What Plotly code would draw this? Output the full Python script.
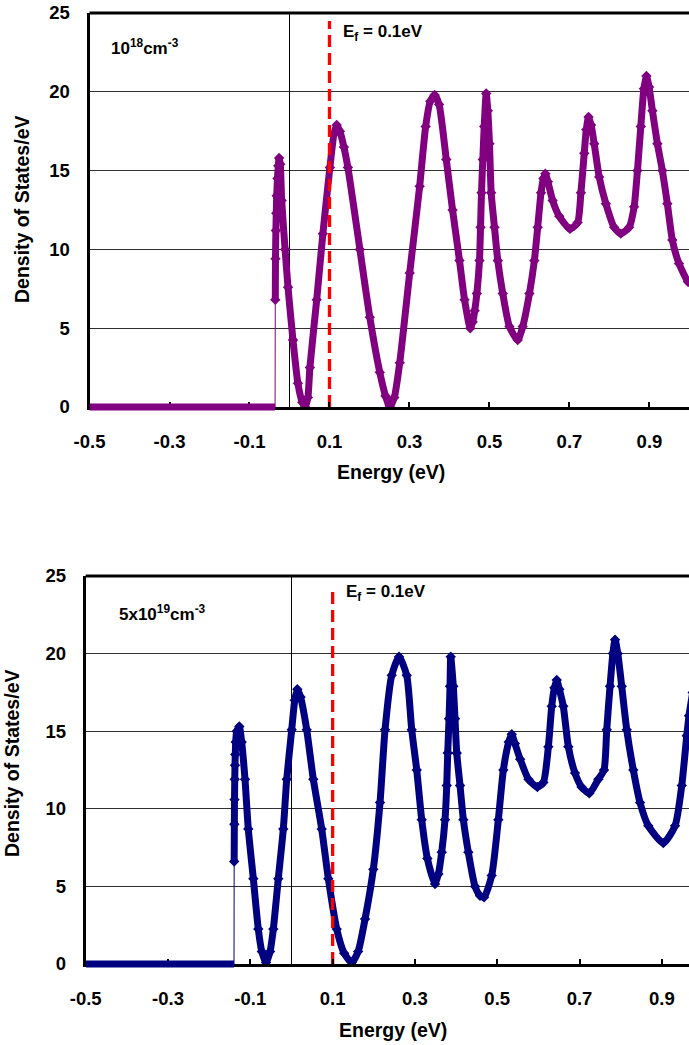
import plotly.graph_objects as go

# ---------------- data ----------------
energy_top = [
    -0.5, -0.036,
    -0.0355, -0.035, -0.034, -0.033, -0.032, -0.030, -0.028, -0.026,
    -0.023, -0.0195, -0.011, -0.0037, 0.0087, 0.021, 0.032, 0.039,
    0.046, 0.051, 0.068, 0.0835, 0.101, 0.111, 0.118,
    0.126, 0.136, 0.146, 0.176, 0.2007, 0.2257, 0.240, 0.2506,
    0.262, 0.2756, 0.3005, 0.3254, 0.3404, 0.352, 0.3628,
    0.374, 0.392, 0.4077, 0.425, 0.4377, 0.4519,
    0.458, 0.463, 0.4684, 0.475, 0.4776, 0.480, 0.4833, 0.4868, 0.4918,
    0.4958, 0.500, 0.5042, 0.5125, 0.5207, 0.5332, 0.5499, 0.5706,
    0.583, 0.5998, 0.6122, 0.6205, 0.6289, 0.635, 0.6397,
    0.646, 0.6579, 0.6746, 0.7012, 0.7203,
    0.7286, 0.7369, 0.742, 0.7477,
    0.754, 0.7618, 0.7743, 0.791, 0.8117, 0.8284,
    0.8491, 0.8616, 0.8699, 0.8783, 0.886, 0.8923,
    0.899, 0.9073, 0.9198, 0.9322, 0.9447, 0.9571, 0.9738, 0.9963, 1.005]

dos_top = [
    0, 0,
    6.8, 9.4, 11.2, 12.3, 13.4, 14.5, 15.3, 15.8,
    15.4, 13.1, 10.0, 7.6, 4.25, 1.5, 0.3, 0.0,
    0.6, 2.5, 6.8, 11.0, 15.2, 17.3, 17.9,
    17.5, 16.5, 15.2, 10.0, 5.7, 2.2, 0.7, 0.0,
    0.6, 2.8, 8.5, 14.0, 17.8, 19.4, 19.8,
    19.2, 15.7, 12.5, 9.3, 6.8, 5.0,
    5.4, 6.1, 7.2, 9.3, 11.4, 13.6, 15.7, 17.8, 19.9,
    18.8, 16.7, 13.6, 11.4, 9.3, 7.2, 5.1, 4.25,
    5.1, 7.2, 9.3, 11.4, 13.6, 14.5, 14.8,
    14.3, 13.1, 12.1, 11.3, 11.7,
    13.6, 16.1, 17.6, 18.4,
    17.9, 16.7, 14.6, 12.9, 11.4, 11.0,
    11.4, 12.7, 15.0, 17.8, 20.2, 21.0,
    20.3, 18.8, 16.7, 15.0, 12.9, 10.6, 9.1, 7.95, 7.8]

energy_bot = [
    -0.5, -0.1396,
    -0.1392, -0.1388, -0.1384, -0.1378, -0.1372, -0.1365, -0.1355, -0.133, -0.1267,
    -0.121, -0.1129, -0.1049, -0.0927, -0.0806, -0.072, -0.0618,
    -0.052, -0.0441, -0.032, -0.0198, -0.0115, 0.0006, 0.008, 0.0142,
    0.022, 0.037, 0.0531, 0.0735, 0.0896, 0.11, 0.128, 0.1465,
    0.162, 0.1788, 0.1989, 0.2152, 0.2274, 0.2436, 0.2614,
    0.2801, 0.2922, 0.3044, 0.3165, 0.3302, 0.3489,
    0.357, 0.3651, 0.3731, 0.3773, 0.3797, 0.3829, 0.3853, 0.387,
    0.3933, 0.3974, 0.4016, 0.4096, 0.4177, 0.4298, 0.4461, 0.4582, 0.468,
    0.4866, 0.5027, 0.5149, 0.528, 0.5353,
    0.543, 0.5557, 0.5759, 0.5975, 0.6121,
    0.6243, 0.6324, 0.639, 0.6446,
    0.651, 0.6606, 0.6728, 0.689, 0.705, 0.7238,
    0.7457, 0.7595, 0.7661, 0.7741, 0.781, 0.7863,
    0.793, 0.8025, 0.8147, 0.8307, 0.847, 0.8672, 0.9036,
    0.9321, 0.9484, 0.9605, 0.966, 0.975]

dos_bot = [
    0, 0,
    6.6, 9.0, 10.6, 11.9, 12.8, 13.5, 14.3, 15.0, 15.3,
    14.3, 11.9, 8.7, 5.5, 2.25, 0.8, 0.1,
    0.8, 2.25, 5.5, 8.7, 11.9, 15.1, 17.0, 17.7,
    17.2, 15.1, 11.9, 8.7, 5.5, 2.25, 0.7, 0.1,
    0.8, 2.9, 6.1, 10.4, 15.1, 18.6, 19.8,
    18.6, 15.1, 12.5, 9.3, 6.8, 5.15,
    5.8, 7.2, 9.3, 11.5, 13.6, 15.8, 17.9, 19.8,
    17.9, 15.8, 13.6, 11.5, 9.3, 7.2, 5.0, 4.4, 4.3,
    5.7, 9.3, 12.5, 14.3, 14.8,
    14.2, 13.2, 11.9, 11.4, 11.7,
    14.0, 16.6, 17.8, 18.3,
    17.7, 16.6, 14.0, 12.3, 11.4, 11.0,
    11.9, 12.5, 15.1, 17.9, 20.0, 20.9,
    20.0, 17.9, 15.1, 12.5, 10.4, 8.9, 7.8,
    8.9, 11.5, 14.7, 16.0, 17.5]

x_tick_vals = [-0.5, -0.3, -0.1, 0.1, 0.3, 0.5, 0.7, 0.9]
x_tick_text = ["-0.5", "-0.3", "-0.1", "0.1", "0.3", "0.5", "0.7", "0.9"]
y_tick_vals = [0, 5, 10, 15, 20, 25]
fermi_level = 0.1
fermi_top = [0, 24.5]
fermi_bot = [0, 24.3]
label_top = "10<sup>18</sup>cm<sup>-3</sup>"
label_bot = "5x10<sup>19</sup>cm<sup>-3</sup>"
fermi_label = "E<sub>f</sub> = 0.1eV"
x_title = "Energy (eV)"
y_title = "Density of States/eV"

# ---------------- figure ----------------
W, H = 689, 1045
FONT = "Arial, 'Liberation Sans', sans-serif"
PURPLE = "#800080"
NAVY = "#000080"

fig = go.Figure()


def add_curve(energy, dos, color, xa, ya):
    # flat zero part: drawn over the axis line (not clipped vertically)
    fig.add_shape(type="line", xref=xa, yref=ya + " domain",
                  x0=energy[0], x1=energy[1], y0=0, y1=0,
                  line=dict(color=color, width=7), layer="above")
    # thin jump at the band edge
    fig.add_trace(go.Scatter(x=energy[1:3], y=dos[1:3], mode="lines",
                             line=dict(color=color, width=1),
                             xaxis=xa, yaxis=ya, showlegend=False))
    # main curve
    fig.add_trace(go.Scatter(x=energy[2:], y=dos[2:], mode="lines+markers",
                             line=dict(color=color, width=7, shape="spline", smoothing=0.6),
                             marker=dict(symbol="diamond", size=8, color=color),
                             xaxis=xa, yaxis=ya, showlegend=False))


add_curve(energy_top, dos_top, PURPLE, "x", "y")
add_curve(energy_bot, dos_bot, NAVY, "x2", "y2")

for xa, ya, yy in (("x", "y", fermi_top), ("x2", "y2", fermi_bot)):
    fig.add_trace(go.Scatter(x=[fermi_level, fermi_level], y=yy, mode="lines",
                             line=dict(color="#FF0000", width=3.3, dash="12px,6px"),
                             xaxis=xa, yaxis=ya, showlegend=False))

tickfont = dict(family=FONT, size=18.5, color="black", weight="bold")


def xaxis_cfg(domain, rng, anchor):
    return dict(domain=domain, range=rng, anchor=anchor, showline=True, linewidth=3,
                linecolor="black", mirror=False, ticks="inside", ticklen=5, tickwidth=1.5,
                tickcolor="black", tickvals=x_tick_vals, ticktext=x_tick_text,
                tickfont=tickfont, ticklabelstandoff=16, showgrid=False, zeroline=True,
                zerolinecolor="black", zerolinewidth=1, fixedrange=True, automargin=False)


def yaxis_cfg(domain, anchor):
    return dict(domain=domain, range=[0, 25], anchor=anchor, showline=True, linewidth=3,
                linecolor="black", mirror=False, ticks="", tickvals=y_tick_vals,
                tickfont=tickfont, ticklabelstandoff=13, showgrid=True,
                gridcolor="#303030", gridwidth=1, zeroline=False, fixedrange=True,
                automargin=False)


fig.update_layout(
    template="none",
    width=W, height=H, autosize=False,
    margin=dict(l=0, r=0, t=0, b=0, pad=0),
    paper_bgcolor="white", plot_bgcolor="white",
    xaxis=xaxis_cfg([89.5 / W, 1.0], [-0.5, 0.9988], "y"),
    yaxis=yaxis_cfg([(H - 407) / H, (H - 13) / H], "x"),
    xaxis2=xaxis_cfg([85.7 / W, 1.0], [-0.5, 0.966], "y2"),
    yaxis2=yaxis_cfg([(H - 964) / H, (H - 576) / H], "x2"),
)

# top borders of the plot areas
for xr, yr in (("x domain", "y domain"), ("x2 domain", "y2 domain")):
    fig.add_shape(type="line", xref=xr, yref=yr, x0=0, x1=1, y0=1, y1=1,
                  line=dict(color="black", width=3))


def ann(text, px, py, size=17, xanchor="center", angle=0):
    fig.add_annotation(text=text, x=px / W, y=1 - py / H, xref="paper", yref="paper",
                       xanchor=xanchor, yanchor="middle", showarrow=False, textangle=angle,
                       font=dict(family=FONT, size=size, color="black", weight="bold"))


ann(x_title, 391, 472, size=19.5)
ann(x_title, 393, 1030, size=19.5)
ann(y_title, 22, 210, size=19.5, angle=-90)
ann(y_title, 12, 764, size=19.5, angle=-90)
ann(label_top, 109, 47, size=17, xanchor="left")
ann(label_bot, 117, 613, size=17, xanchor="left")
ann(fermi_label, 341, 33, size=17, xanchor="left")
ann(fermi_label, 344, 593, size=17, xanchor="left")

fig.write_html("out.html", config={"responsive": False, "displayModeBar": False},
               post_script="document.body.style.margin='0px';document.body.style.overflow='hidden';")
